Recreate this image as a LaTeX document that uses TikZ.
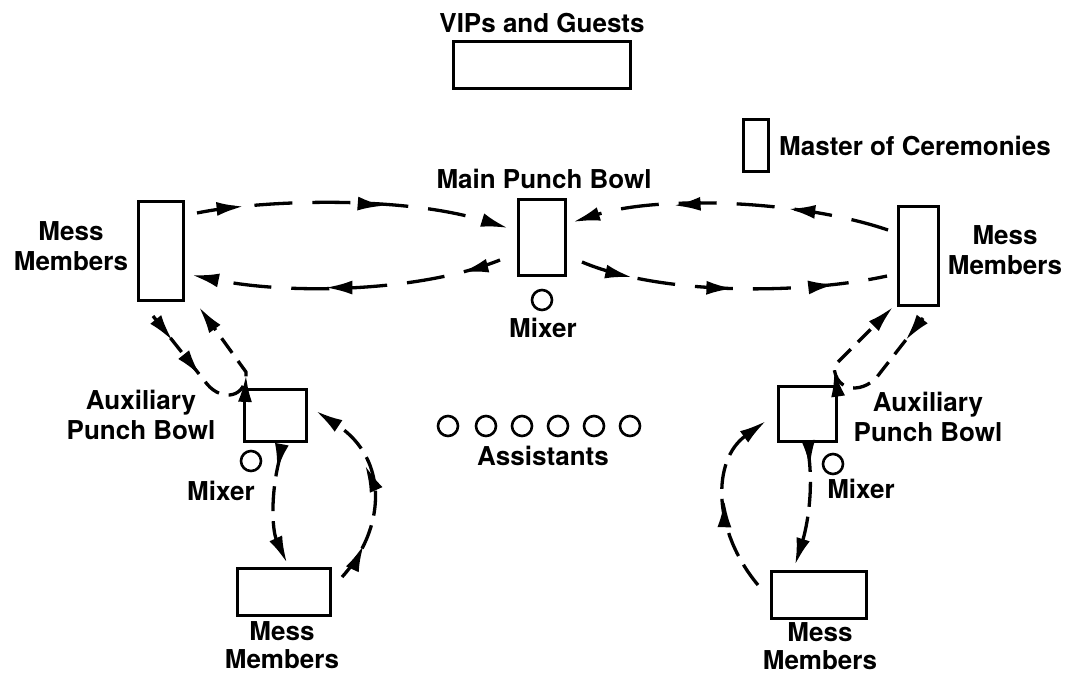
\documentclass[tikz,border=0pt]{standalone}
\usepackage{fontspec}
\setmainfont{TeX Gyre Heros}
\usetikzlibrary{arrows.meta,decorations.markings,calc}
\tikzset{
  box/.style={draw, line width=3pt, inner sep=0pt},
  ring/.style={draw, circle, line width=2.6pt, minimum size=20pt, inner sep=0pt},
  lbl/.style={font=\bfseries\fontsize{26}{30}\selectfont, inner sep=0pt, align=center},
  flowtip/.tip={Latex[length=27pt,width=14pt]},
  flow/.style={line width=3.3pt, dash pattern=on 38pt off 20pt},
  loopflow/.style={line width=3.3pt, dash pattern=on 18pt off 10pt},
  midflow/.style={line width=3.3pt, dash pattern=on 25pt off 10pt},
  mk/.style={postaction={decorate,decoration={markings,mark=at position #1 with {\arrow{flowtip}}}}}
}
\begin{document}
\begin{tikzpicture}[x=1pt,y=-1pt]
\useasboundingbox (0,0) rectangle (1067,673);
% boxes
\node[box, minimum width=177pt, minimum height=47pt] (vip) at (542,65) {};
\node[box, minimum width=25pt, minimum height=52pt] (mc) at (756,145.5) {};
\node[box, minimum width=47pt, minimum height=76pt] (mpb) at (542,237.5) {};
\node[box, minimum width=45pt, minimum height=99pt] (lmm) at (161,251) {};
\node[box, minimum width=40pt, minimum height=99pt] (rmm) at (918.5,256) {};
\node[box, minimum width=62pt, minimum height=52pt] (lab) at (275.5,415.5) {};
\node[box, minimum width=58pt, minimum height=55pt] (rab) at (807.5,414) {};
\node[box, minimum width=93pt, minimum height=47pt] (lbm) at (284,592) {};
\node[box, minimum width=95pt, minimum height=47pt] (rbm) at (819,595) {};
% circles
\node[ring] (mmix) at (542,300) {};
\node[ring] (lmix) at (251,461) {};
\node[ring] (rmix) at (833,464) {};
\foreach \i/\x in {1/448,2/486,3/522,4/558,5/594,6/630}
  \node[ring] (as\i) at (\x,426) {};
% labels
\node[lbl, anchor=base] (tvip) at (542,32) {VIPs and Guests};
\node[lbl, anchor=base west] (tmc) at (779,155) {Master of Ceremonies};
\node[lbl, anchor=base] (tmpb) at (544,188) {Main Punch Bowl};
\node[lbl, anchor=base] (tmix) at (543,337) {Mixer};
\node[lbl, anchor=base] (tas) at (543,465) {Assistants};
\node[lbl, anchor=north] (tlmm) at (71,221) {Mess\\Members};
\node[lbl, anchor=north] (trmm) at (1005,225) {Mess\\Members};
\node[lbl, anchor=north] (tlab) at (141,390) {Auxiliary\\Punch Bowl};
\node[lbl, anchor=north] (trab) at (928,392) {Auxiliary\\Punch Bowl};
\node[lbl, anchor=base] (tlmx) at (221,500) {Mixer};
\node[lbl, anchor=base] (trmx) at (861,498) {Mixer};
\node[lbl, anchor=north, font=\bfseries\fontsize{26}{28}\selectfont] (tlbm) at (282,621) {Mess\\Members};
\node[lbl, anchor=north, font=\bfseries\fontsize{26}{28}\selectfont] (trbm) at (820,622) {Mess\\Members};
% main flows
\draw[flow, -flowtip, mk=0.15, mk=0.6]
  ($(lmm.north east)+(12,13)$) .. controls (260,200) and (400,195) .. ($(mpb.west)+(-9,-9.5)$);
\draw[flow, -flowtip, mk=0.13, mk=0.57]
  ($(mpb.west)+(-17,22.5)$) .. controls (420,292) and (290,295) .. ($(lmm.east)+(7,24)$);
\draw[flow, -flowtip, mk=0.32, mk=0.68]
  ($(rmm.west)+(-9,-26)$) .. controls (800,200) and (660,195) .. ($(mpb.east)+(6,-15.5)$);
\draw[flow, mk=0.17, mk=0.5, mk=0.83]
  ($(mpb.east)+(15,24.5)$) .. controls (660,295) and (800,295) .. ($(rmm.west)+(-10,20)$);
% left loop
\draw[loopflow, -flowtip, mk=0.14, mk=0.34, mk=0.63]
  ($(lmm.south)+(-8,14)$) -- (207,384) .. controls (222,402) and (247,398) .. (246,372)
  -- ($(lmm.south east)+(14,5)$);
\draw[midflow, -flowtip, mk=0.17]
  ($(lab.south)+(6,9)$) .. controls (270,490) and (272,530) .. ($(lbm.north)+(3,-4)$);
\draw[midflow, -flowtip, mk=0.2, mk=0.62]
  ($(lbm.north east)+(10,10)$) .. controls (385,530) and (390,460) .. ($(lab.east)+(8,-4.5)$);
% right loop
\draw[loopflow, -flowtip, mk=0.13, mk=0.6]
  ($(rmm.south)+(4.5,11)$) -- (880,373) .. controls (866,394) and (835,394) .. (834,366)
  -- ($(rmm.south west)+(-4,0)$);
\draw[midflow, -flowtip, mk=0.17]
  ($(rab.south)+(0,4)$) .. controls (815,490) and (806,530) .. ($(rbm.north)+(-24,-5)$);
\draw[midflow, -flowtip, mk=0.5]
  ($(rbm.west)+(-12,-10)$) .. controls (712,530) and (712,460) .. ($(rab.west)+(-11,7)$);
\end{tikzpicture}
\end{document}
